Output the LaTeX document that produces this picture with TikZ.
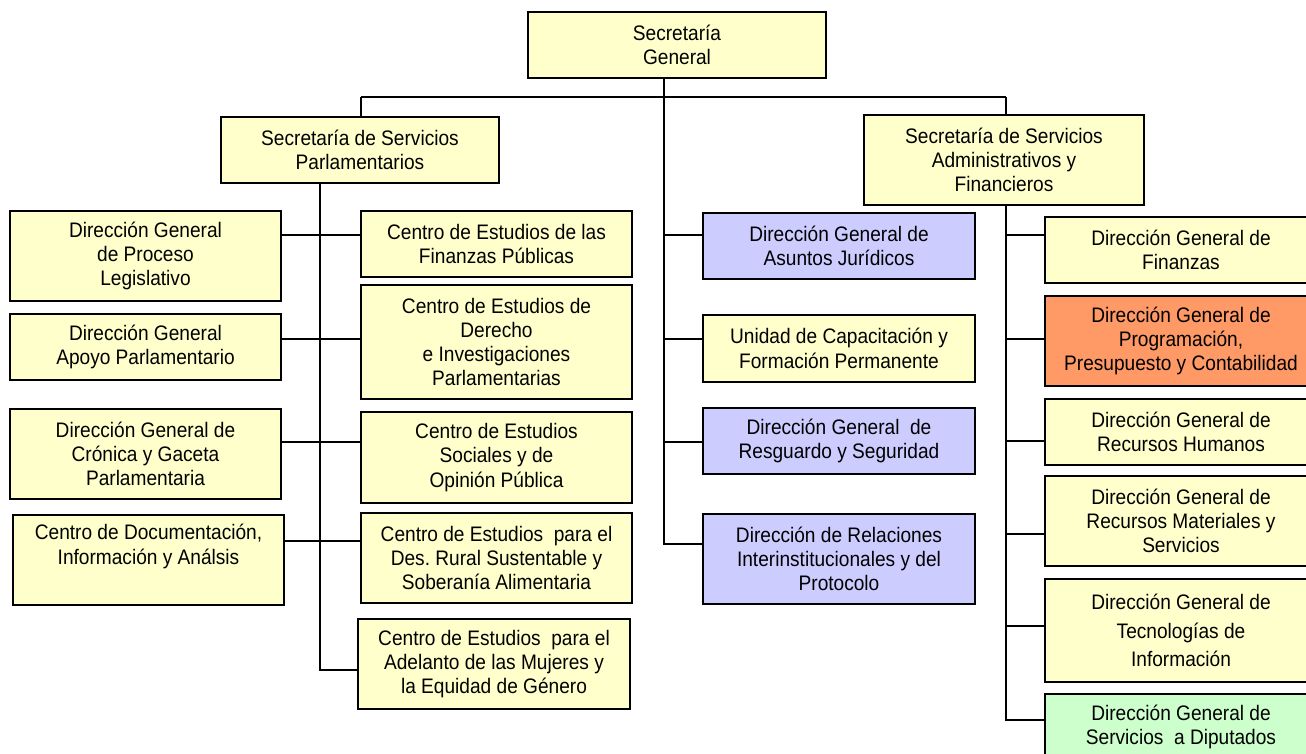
\documentclass[tikz,border=0pt]{standalone}
\usepackage{fontspec}
\setmainfont[FakeStretch=0.91]{Liberation Sans}
\frenchspacing
\definecolor{yel}{HTML}{FFFFCC}
\definecolor{blu}{HTML}{CCCCFF}
\definecolor{ora}{HTML}{FF9966}
\definecolor{grn}{HTML}{CCFFCC}
\tikzset{
  box/.style={draw=black, line width=1.5pt, fill=yel, align=center, inner sep=0pt,
    font=\fontsize{21}{24.3}\selectfont\frenchspacing},
  conn/.style={draw=black, line width=2pt},
}
\begin{document}
\begin{tikzpicture}[x=1pt,y=-1pt]
\useasboundingbox (0,0) rectangle (1306,753);
\fill[white] (0,0) rectangle (1306,753);
\clip (0,0) rectangle (1306,753);

% top
\node[box, minimum width=298, minimum height=66] (sg) at (677,45) {Secretaría\\General};
\node[box, minimum width=278, minimum height=66] (ssp) at (360,150) {Secretaría de Servicios\\Parlamentarios};
\node[box, minimum width=280, minimum height=90] (ssaf) at (1004,160) {Secretaría de Servicios\\Administrativos y\\Financieros};

% left column
\node[box, minimum width=271, minimum height=90] (proc) at (145.5,256) {Dirección General\\de Proceso\\Legislativo};
\node[box, minimum width=271, minimum height=66] (apoyo) at (145.5,347) {Dirección General\\Apoyo Parlamentario};
\node[box, minimum width=271, minimum height=90] (cron) at (145.5,454) {Dirección General de\\Crónica y Gaceta\\Parlamentaria};
\node[box, minimum width=271, minimum height=90] (docu) at (148.5,560) {Centro de Documentación,\\Información y Análsis\\\strut};

% second column
\node[box, minimum width=271, minimum height=66] (finpub) at (496.5,244) {Centro de Estudios de las\\Finanzas Públicas};
\node[box, minimum width=271, minimum height=114] (derecho) at (496.5,342) {Centro de Estudios de\\Derecho\\e Investigaciones\\Parlamentarias};
\node[box, minimum width=271, minimum height=91] (soc) at (496.5,457.5) {Centro de Estudios\\Sociales y de\\Opinión Pública};
\node[box, minimum width=271, minimum height=90] (rural) at (496.5,558) {Centro de Estudios\ \ para el\\Des. Rural Sustentable y\\Soberanía Alimentaria};
\node[box, minimum width=272, minimum height=90] (mujer) at (494,664) {Centro de Estudios\ \ para el\\Adelanto de las Mujeres y\\la Equidad de Género};

% third column
\node[box, fill=blu, minimum width=272, minimum height=66] (asun) at (839,246) {Dirección General de\\Asuntos Jurídicos};
\node[box, minimum width=272, minimum height=67] (unidad) at (839,348.5) {Unidad de Capacitación y\\Formación Permanente};
\node[box, fill=blu, minimum width=272, minimum height=66] (resg) at (839,441) {Dirección General\ \ de\\Resguardo y Seguridad};
\node[box, fill=blu, minimum width=272, minimum height=90] (rel) at (839,559) {Dirección de Relaciones\\Interinstitucionales y del\\Protocolo};

% fourth column
\node[box, minimum width=272, minimum height=66] (fin) at (1181,250) {Dirección General de\\Finanzas};
\node[box, fill=ora, minimum width=272, minimum height=90] (prog) at (1181,341) {Dirección General de\\Programación,\\Presupuesto y Contabilidad};
\node[box, minimum width=272, minimum height=66] (hum) at (1181,432) {Dirección General de\\Recursos Humanos};
\node[box, minimum width=272, minimum height=90] (mat) at (1181,521) {Dirección General de\\Recursos Materiales y\\Servicios};
\node[box, minimum width=272, minimum height=103] (tec) at (1181,630.5) {Dirección General de\\[4pt]Tecnologías de\\[4pt]Información};
\node[box, fill=grn, minimum width=272, minimum height=66] (serv) at (1181,727) {Dirección General de\\Servicios\ \ a Diputados};

% spine coordinates
\coordinate (hL) at (361,97);
\coordinate (hR) at (1006,97);
\coordinate (vC) at (664,97);
\coordinate (sL) at (320,0);
\coordinate (sR) at (1006,0);
% connector levels
\coordinate (l1) at (0,235);
\coordinate (l2) at (0,339);
\coordinate (l3) at (0,442);
\coordinate (l4) at (0,541);
\coordinate (l5) at (0,670);
\coordinate (c1) at (0,235);
\coordinate (c2) at (0,339);
\coordinate (c3) at (0,442);
\coordinate (c4) at (0,544);
\coordinate (r1) at (0,235);
\coordinate (r2) at (0,339);
\coordinate (r3) at (0,441);
\coordinate (r4) at (0,534);
\coordinate (r5) at (0,626);
\coordinate (r6) at (0,720);

% top level lines
\draw[conn] (hL) -- (hR);
\draw[conn] (hL) -- (hL |- ssp.north);
\draw[conn] (hR) -- (hR |- ssaf.north);
\draw[conn] (vC |- sg.south) -- (vC |- c4) -- (rel.west |- c4);
\draw[conn] (vC |- c1) -- (asun.west |- c1);
\draw[conn] (vC |- c2) -- (unidad.west |- c2);
\draw[conn] (vC |- c3) -- (resg.west |- c3);

% left spine
\draw[conn] (sL |- ssp.south) -- (sL |- l5) -- (mujer.west |- l5);
\draw[conn] (proc.east |- l1) -- (finpub.west |- l1);
\draw[conn] (apoyo.east |- l2) -- (derecho.west |- l2);
\draw[conn] (cron.east |- l3) -- (soc.west |- l3);
\draw[conn] (docu.east |- l4) -- (rural.west |- l4);

% right spine
\draw[conn] (sR |- ssaf.south) -- (sR |- r6) -- (serv.west |- r6);
\draw[conn] (sR |- r1) -- (fin.west |- r1);
\draw[conn] (sR |- r2) -- (prog.west |- r2);
\draw[conn] (sR |- r3) -- (hum.west |- r3);
\draw[conn] (sR |- r4) -- (mat.west |- r4);
\draw[conn] (sR |- r5) -- (tec.west |- r5);
\end{tikzpicture}
\end{document}
